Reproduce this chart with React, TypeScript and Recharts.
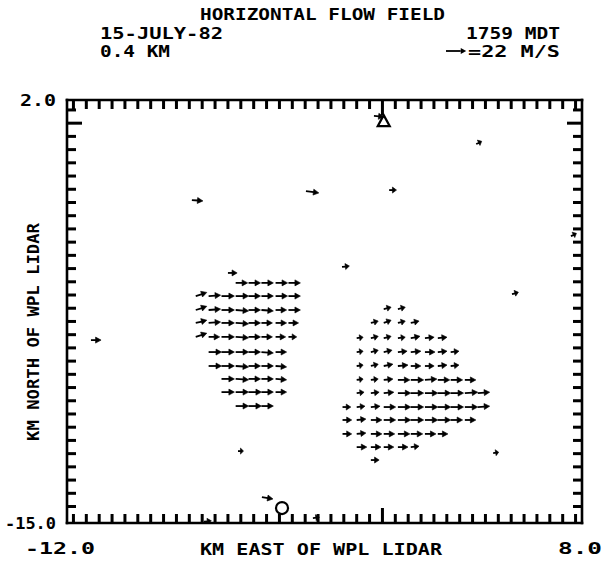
import React from 'react'
import { ScatterChart, Scatter, XAxis, YAxis } from 'recharts'

// frame extent (km) and tick positions
const X_MIN = -12
const X_MAX = 8
const Y_MIN = -15
const Y_MAX = 2
const xMinor = Array.from({ length: 40 }, (_, i) => -11.75 + i * 0.5)
const yMinor = Array.from({ length: 31 }, (_, i) => 1.6 - i * 0.53125)
const xMajor = 0.25
const yMajor = yMinor[1]
const xLabels: Record<string, string> = { '-12': '-12.0', '8': '8.0' }
const yLabels: Record<string, string> = { '2': '2.0', '-15': '-15.0' }

// [x km east, y km north, u m/s, v m/s]
const westCluster = [
  [-5.45, -5.35, 13, 0], [-4.95, -5.35, 13, 0], [-4.45, -5.35, 13, 0], [-3.9, -5.35, 13, 0], [-3.4, -5.35, 13, 0],
  [-7.0, -5.88, 12, 4], [-6.5, -5.88, 13, 1], [-6.0, -5.88, 14, 0], [-5.45, -5.88, 14, 0], [-4.95, -5.88, 13, 0], [-4.45, -5.88, 13, 0], [-3.9, -5.88, 13, 0], [-3.4, -5.88, 13, 0],
  [-7.0, -6.44, 12, 4], [-6.5, -6.44, 13, 1], [-6.0, -6.44, 14, 0], [-5.45, -6.44, 14, -1], [-4.95, -6.44, 13, 0], [-4.45, -6.44, 13, -1], [-3.9, -6.44, 12, 0], [-3.4, -6.44, 13, 0],
  [-7.0, -6.96, 12, 3], [-6.5, -6.96, 13, 1], [-6.0, -6.96, 14, 0], [-5.45, -6.96, 14, -1], [-4.95, -6.96, 13, 0], [-4.45, -6.96, 12, 0], [-3.9, -6.96, 12, 0], [-3.4, -6.96, 11, 0],
  [-7.0, -7.52, 12, 4], [-6.5, -7.52, 12, 0], [-6.0, -7.52, 14, 0], [-5.45, -7.52, 14, -1], [-4.95, -7.52, 13, 0], [-4.45, -7.52, 12, 0], [-3.9, -7.52, 11, 0], [-3.4, -7.52, 9, 0],
  [-6.5, -8.13, 14, 0], [-6.0, -8.13, 14, 0], [-5.45, -8.13, 14, 0], [-4.95, -8.13, 13, 0], [-4.45, -8.13, 13, -1], [-3.9, -8.13, 12, 0],
  [-6.5, -8.69, 14, 0], [-6.0, -8.69, 14, 0], [-5.45, -8.69, 14, -1], [-4.95, -8.69, 13, 0], [-4.45, -8.69, 13, 0], [-3.9, -8.69, 12, -1],
  [-6.0, -9.21, 14, 0], [-5.45, -9.21, 14, -1], [-4.95, -9.21, 13, 0], [-4.45, -9.21, 13, 0], [-3.9, -9.21, 12, -1],
  [-6.0, -9.74, 14, 0], [-5.45, -9.74, 14, 0], [-4.95, -9.74, 14, 0], [-4.45, -9.74, 13, 0], [-3.9, -9.74, 12, 0],
  [-5.45, -10.3, 14, 0], [-4.95, -10.3, 14, 0], [-4.45, -10.3, 13, 0],
]

const eastCluster = [
  [0.3, -6.4, 8, 2], [0.85, -6.4, 8, 2],
  [-0.2, -6.96, 8, 2], [0.3, -6.96, 8, 3], [0.85, -6.96, 8, 2], [1.35, -6.96, 9, 2],
  [-0.75, -7.57, 7, 1], [-0.2, -7.57, 8, 2], [0.3, -7.57, 8, 2], [0.85, -7.57, 8, 1], [1.35, -7.57, 10, 2], [1.9, -7.57, 10, 1], [2.4, -7.57, 10, 1],
  [-0.75, -8.13, 7, 1], [-0.2, -8.13, 8, 2], [0.3, -8.13, 9, 2], [0.85, -8.13, 10, 1], [1.35, -8.13, 11, 1], [1.9, -8.13, 11, 0], [2.4, -8.13, 10, 1], [2.9, -8.13, 9, 1],
  [-0.75, -8.69, 7, 1], [-0.2, -8.69, 8, 2], [0.3, -8.69, 10, 2], [0.85, -8.69, 11, 1], [1.35, -8.69, 11, 0], [1.9, -8.69, 10, 0], [2.4, -8.69, 10, 1], [2.9, -8.69, 9, 1],
  [-0.75, -9.25, 7, 1], [-0.2, -9.25, 8, 1], [0.3, -9.25, 10, 1], [0.85, -9.25, 13, 0], [1.35, -9.25, 14, 0], [1.9, -9.25, 13, 1], [2.4, -9.25, 13, 0], [2.9, -9.25, 13, 0], [3.45, -9.25, 12, 0],
  [-0.75, -9.78, 8, 1], [-0.2, -9.78, 9, 1], [0.3, -9.78, 11, 1], [0.85, -9.78, 14, 0], [1.35, -9.78, 14, 0], [1.9, -9.78, 14, 0], [2.4, -9.78, 14, 0], [2.9, -9.78, 14, 0], [3.45, -9.78, 14, 1], [3.95, -9.78, 13, 1],
  [-1.3, -10.34, 9, 0], [-0.75, -10.34, 9, 1], [-0.2, -10.34, 10, 1], [0.3, -10.34, 13, 0], [0.85, -10.34, 14, 0], [1.35, -10.34, 14, 0], [1.9, -10.34, 14, 0], [2.4, -10.34, 14, 0], [2.9, -10.34, 14, 0], [3.45, -10.34, 14, 0], [3.95, -10.34, 13, 1],
  [-1.3, -10.86, 10, 0], [-0.75, -10.86, 10, 1], [-0.2, -10.86, 12, 0], [0.3, -10.86, 13, 0], [0.85, -10.86, 14, 0], [1.35, -10.86, 14, 0], [1.9, -10.86, 14, 0], [2.4, -10.86, 14, 0], [2.9, -10.86, 13, 0], [3.45, -10.86, 12, 0],
  [-1.3, -11.42, 10, 0], [-0.75, -11.42, 10, 1], [-0.2, -11.42, 12, 0], [0.3, -11.42, 12, 0], [0.85, -11.42, 13, 0], [1.35, -11.42, 13, 0], [1.9, -11.42, 12, 0], [2.4, -11.42, 11, 0],
  [-0.75, -11.95, 11, 0], [-0.2, -11.95, 11, 0], [0.3, -11.95, 11, 0], [0.85, -11.95, 11, 0], [1.35, -11.95, 9, 1],
  [-0.2, -12.47, 9, 0],
]

const scattered = [
  [-7.15, -2.02, 12, -1], [-2.72, -1.66, 14, -2], [0.51, -1.62, 8, 0], [3.89, 0.23, 6, 3],
  [7.57, -3.47, 6, 3], [-5.75, -4.95, 10, 0], [-1.32, -4.71, 8, 1], [5.28, -5.8, 7, 2],
  [-11.07, -7.65, 11, 0], [-5.36, -12.11, 6, 0], [4.55, -12.19, 6, 1], [-4.43, -13.96, 12, -2],
  [-2.45, -14.8, 7, 1], [-6.68, -14.95, 8, 1], [-0.08, 1.36, 11, -1],
]

const lidarSite = [{ x: 0.3, y: 1.15 }]
const circleSite = [{ x: -3.65, y: -14.4 }]

const REF_SPEED = 22
const PX_PER_MS = 0.92
const FONT = '"DejaVu Sans Mono", monospace'

const toPoints = (rows: number[][]) => rows.map(([x, y, u, v]) => ({ x, y, u, v }))
const vectors = [...toPoints(westCluster), ...toPoints(eastCluster), ...toPoints(scattered)]

// tick marks sit on the frame, one point per mark
const frameTicks = [
  ...xMinor.map((x) => ({ x, y: Y_MIN, dir: 'up', major: x === xMajor })),
  ...xMinor.map((x) => ({ x, y: Y_MAX, dir: 'down', major: x === xMajor })),
  ...yMinor.map((y) => ({ x: X_MIN, y, dir: 'right', major: y === yMajor })),
  ...yMinor.map((y) => ({ x: X_MAX, y, dir: 'left', major: y === yMajor })),
]

function arrowParts(x0: number, y0: number, dx: number, dy: number) {
  const len = Math.hypot(dx, dy) || 1
  const ux = dx / len
  const uy = dy / len
  const tx = x0 + dx
  const ty = y0 + dy
  const h = Math.min(5.5, len * 0.55)
  const w = 3
  const bx = tx - ux * h
  const by = ty - uy * h
  const pts = `${tx},${ty} ${bx - uy * w},${by + ux * w} ${bx + uy * w},${by - ux * w}`
  return { bx, by, pts }
}

const Arrow = (props: any) => {
  const { cx, cy, payload } = props
  if (cx == null || cy == null) return null
  const dx = payload.u * PX_PER_MS
  const dy = -payload.v * PX_PER_MS
  const { bx, by, pts } = arrowParts(cx, cy, dx, dy)
  return (
    <g>
      <line x1={cx} y1={cy} x2={bx + 0.5} y2={by} stroke="#000" strokeWidth={1.8} />
      <polygon points={pts} fill="#000" stroke="#000" strokeWidth={0.6} strokeLinejoin="round" />
    </g>
  )
}

const TickMark = (props: any) => {
  const { cx, cy, payload } = props
  if (cx == null || cy == null) return null
  const len = payload.major ? 15 : 9
  const x2 = payload.dir === 'right' ? cx + len : payload.dir === 'left' ? cx - len : cx
  const y2 = payload.dir === 'up' ? cy - len : payload.dir === 'down' ? cy + len : cy
  return <line x1={cx} y1={cy} x2={x2} y2={y2} stroke="#000" strokeWidth={3} />
}

const Triangle = (props: any) => {
  const { cx, cy } = props
  return <polygon points={`${cx},${cy - 6} ${cx - 6},${cy + 5} ${cx + 6},${cy + 5}`} fill="none" stroke="#000" strokeWidth={2.2} />
}

const Ring = (props: any) => {
  const { cx, cy } = props
  return <circle cx={cx} cy={cy} r={6} fill="none" stroke="#000" strokeWidth={2.2} />
}

const labelStyle = { fontFamily: FONT, fontSize: 16, fontWeight: 'bold' as const, fill: '#000' }

const bottomLabel = (props: any) => {
  const { x, y, payload, index } = props
  const v = payload.value
  return (
    <text key={`b${index}`} x={v < 0 ? x - 42 : x - 24} y={y + 31} textLength={v < 0 ? 70 : 44} lengthAdjust="spacingAndGlyphs" {...labelStyle}>
      {xLabels[String(v)]}
    </text>
  )
}

const leftLabel = (props: any) => {
  const { x, y, payload, index } = props
  const v = payload.value
  return (
    <text key={`l${index}`} x={x - 11} y={y + 6} textAnchor="end" textLength={v > 0 ? 36 : 51} lengthAdjust="spacingAndGlyphs" {...labelStyle}>
      {yLabels[String(v)]}
    </text>
  )
}

const frame = { stroke: '#000', strokeWidth: 2.6, strokeLinecap: 'square' as const }

export default function FlowField() {
  const { bx, by, pts } = arrowParts(446, 51, REF_SPEED * PX_PER_MS, 0)
  const text = { fontFamily: FONT, fontSize: 16, fontWeight: 'bold' as const, fill: '#000' }
  return (
    <div style={{ position: 'absolute', left: 0, top: 0, width: 608, height: 565, background: '#fff' }}>
      <ScatterChart width={608} height={565} margin={{ top: 99, right: 25, bottom: 41, left: 66 }}>
        <XAxis xAxisId="b" type="number" dataKey="x" domain={[X_MIN, X_MAX]} ticks={[X_MIN, X_MAX]} interval={0} orientation="bottom"
          height={1} tickSize={0} tickMargin={0} tickLine={false} axisLine={frame} tick={bottomLabel} allowDataOverflow />
        <XAxis xAxisId="t" type="number" dataKey="x" domain={[X_MIN, X_MAX]} orientation="top"
          height={1} tick={false} tickLine={false} axisLine={frame} allowDataOverflow />
        <YAxis yAxisId="l" type="number" dataKey="y" domain={[Y_MIN, Y_MAX]} ticks={[Y_MAX, Y_MIN]} interval={0} orientation="left"
          width={1} tickSize={0} tickMargin={0} tickLine={false} axisLine={frame} tick={leftLabel} allowDataOverflow />
        <YAxis yAxisId="r" type="number" dataKey="y" domain={[Y_MIN, Y_MAX]} orientation="right"
          width={1} tick={false} tickLine={false} axisLine={frame} allowDataOverflow />
        <Scatter xAxisId="b" yAxisId="l" data={frameTicks} shape={<TickMark />} isAnimationActive={false} />
        <Scatter xAxisId="b" yAxisId="l" data={vectors} shape={<Arrow />} isAnimationActive={false} />
        <Scatter xAxisId="b" yAxisId="l" data={lidarSite} shape={<Triangle />} isAnimationActive={false} />
        <Scatter xAxisId="b" yAxisId="l" data={circleSite} shape={<Ring />} isAnimationActive={false} />
      </ScatterChart>
      <svg width={608} height={565} style={{ position: 'absolute', left: 0, top: 0, pointerEvents: 'none' }}>
        <text x={200} y={20} textLength={245} lengthAdjust="spacingAndGlyphs" {...text}>HORIZONTAL FLOW FIELD</text>
        <text x={100} y={39} textLength={123} lengthAdjust="spacingAndGlyphs" {...text}>15-JULY-82</text>
        <text x={100} y={57} textLength={70} lengthAdjust="spacingAndGlyphs" {...text}>0.4 KM</text>
        <text x={466} y={39} textLength={94} lengthAdjust="spacingAndGlyphs" {...text}>1759 MDT</text>
        <line x1={446} y1={51} x2={bx} y2={by} stroke="#000" strokeWidth={1.8} />
        <polygon points={pts} fill="#000" />
        <text x={468} y={57} textLength={92} lengthAdjust="spacingAndGlyphs" {...text}>=22 M/S</text>
        <text x={200} y={555} textLength={242} lengthAdjust="spacingAndGlyphs" {...text}>KM EAST OF WPL LIDAR</text>
        <text x={33} y={332} textAnchor="middle" dominantBaseline="central" transform="rotate(-90, 33, 332)"
          textLength={218} lengthAdjust="spacingAndGlyphs" {...text}>KM NORTH OF WPL LIDAR</text>
      </svg>
    </div>
  )
}
